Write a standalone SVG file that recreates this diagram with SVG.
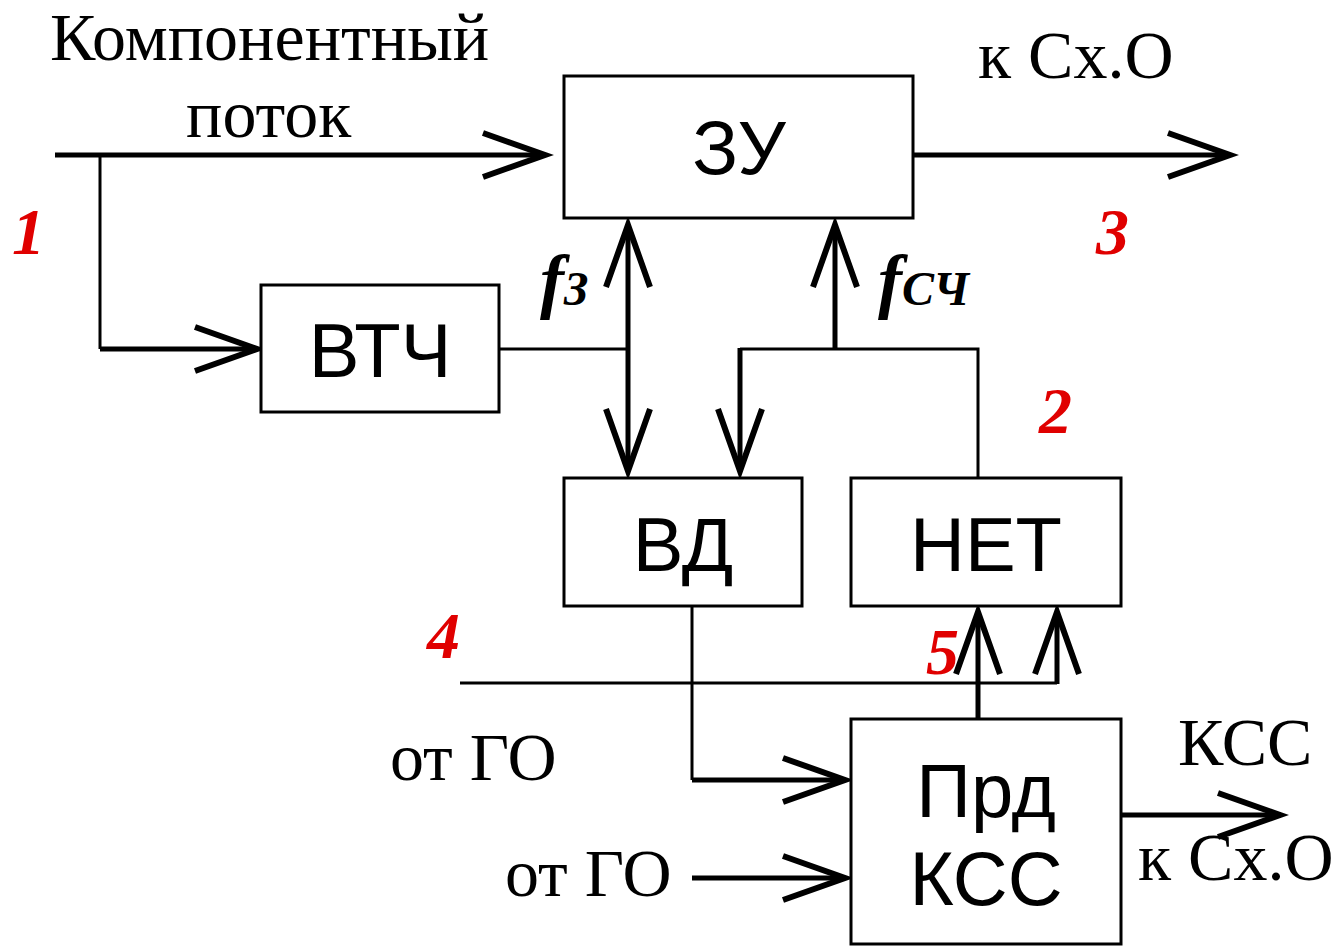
<svg xmlns="http://www.w3.org/2000/svg" width="1335" height="951" viewBox="0 0 1335 951">
<style>
.box{fill:#fff;stroke:#000;stroke-width:3}
.thick{fill:none;stroke:#000;stroke-width:5}
.thin{fill:none;stroke:#000;stroke-width:3}
.lbl{font-family:"Liberation Sans",Arial,sans-serif;font-size:76px;fill:#000;text-anchor:middle}
.tx{font-family:"Liberation Serif","Times New Roman",serif;font-size:68px;fill:#000}
.num{font-family:"Liberation Serif","Times New Roman",serif;font-size:66px;font-weight:bold;font-style:italic;fill:#e00000}
.f{font-family:"Liberation Serif","Times New Roman",serif;font-weight:bold;font-style:italic;fill:#000}
</style>
<defs>
<marker id="ah" markerUnits="userSpaceOnUse" markerWidth="80" markerHeight="60" refX="0" refY="0" viewBox="-70 -30 80 60" orient="auto" overflow="visible">
<path d="M -62 -22 L 0 0 L -62 22" fill="none" stroke="#000" stroke-width="6"/>
</marker>
</defs>
<rect width="1335" height="951" fill="#fff"/>
<g id="connectors">
<path class="thick" d="M 55 155 L 545 155" marker-end="url(#ah)"/>
<path class="thin" d="M 100 155 L 100 349"/>
<path class="thick" d="M 100 349 L 257 349" marker-end="url(#ah)"/>
<path class="thick" d="M 913 155 L 1230 155" marker-end="url(#ah)"/>
<path class="thin" d="M 499 349 L 628 349"/>
<path class="thick" d="M 628 349 L 628 225" marker-end="url(#ah)"/>
<path class="thick" d="M 628 349 L 628 471" marker-end="url(#ah)"/>
<path class="thick" d="M 835 349 L 835 225" marker-end="url(#ah)"/>
<path class="thin" d="M 740 349 L 978 349 L 978 478"/>
<path class="thick" d="M 740 348 L 740 471" marker-end="url(#ah)"/>
<path class="thin" d="M 692 606 L 692 780"/>
<path class="thick" d="M 692 780 L 845 780" marker-end="url(#ah)"/>
<path class="thin" d="M 460 683 L 1057 683"/>
<path class="thick" d="M 1057 684 L 1057 612" marker-end="url(#ah)"/>
<path class="thick" d="M 978 719 L 978 612" marker-end="url(#ah)"/>
<path class="thick" d="M 692 878 L 845 878" marker-end="url(#ah)"/>
<path class="thick" d="M 1121 815 L 1280 815" marker-end="url(#ah)"/>
</g>
<g id="zu"><rect class="box" x="564" y="76" width="349" height="142"/><text class="lbl" x="739" y="174">ЗУ</text></g>
<g id="vtch"><rect class="box" x="261" y="285" width="238" height="127"/><text class="lbl" x="380" y="377">ВТЧ</text></g>
<g id="vd"><rect class="box" x="564" y="478" width="238" height="128"/><text class="lbl" x="683" y="571">ВД</text></g>
<g id="net"><rect class="box" x="851" y="478" width="270" height="128"/><text class="lbl" x="986" y="571">НЕТ</text></g>
<g id="prd"><rect class="box" x="851" y="719" width="270" height="225"/><text class="lbl" x="986" y="817">Прд</text><text class="lbl" x="986" y="905">КСС</text></g>
<g id="labels">
<text class="tx" x="50" y="60">Компонентный</text>
<text class="tx" x="186" y="137">поток</text>
<text class="tx" x="978" y="78">к Сх.О</text>
<text class="tx" x="390" y="780">от ГО</text>
<text class="tx" x="505" y="896">от ГО</text>
<text class="tx" x="1178" y="765">КСС</text>
<text class="tx" x="1138" y="880">к Сх.О</text>
<text class="f" x="540" y="305" font-size="72">f<tspan font-size="48">З</tspan></text>
<text class="f" x="878" y="305" font-size="72">f<tspan font-size="48">СЧ</tspan></text>
<text class="num" x="12" y="254">1</text>
<text class="num" x="1096" y="254">3</text>
<text class="num" x="1039" y="433">2</text>
<text class="num" x="427" y="658">4</text>
<text class="num" x="926" y="674">5</text>
</g>
</svg>
